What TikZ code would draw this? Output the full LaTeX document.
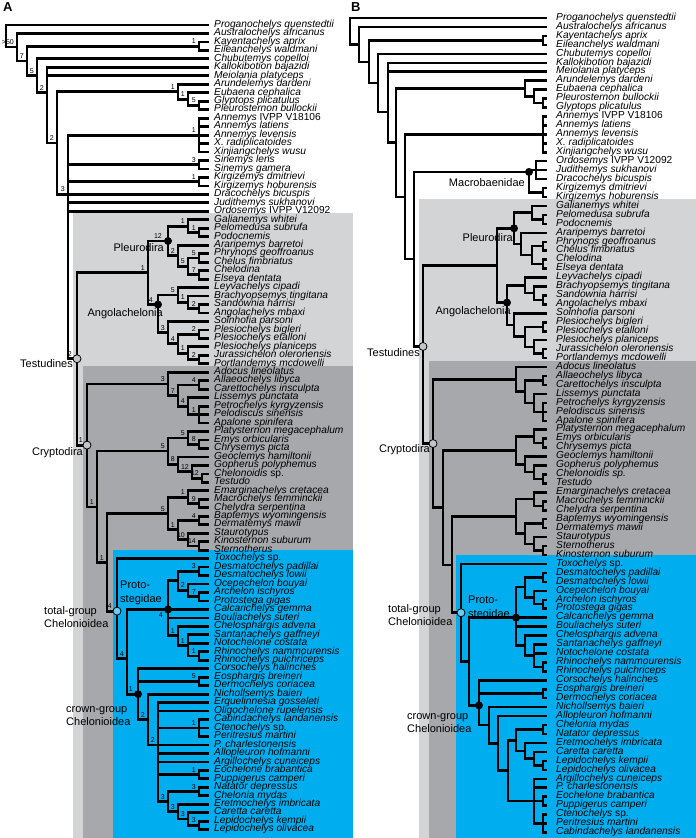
\documentclass[tikz,border=0pt]{standalone}
\usepackage{fontspec}
\setmainfont{Liberation Sans}
\usepackage{xcolor}
\definecolor{TestGray}{HTML}{D3D4D6}
\definecolor{CryptGray}{HTML}{A7A8AC}
\definecolor{ChelBlue}{HTML}{00AEEF}
\definecolor{DotGray}{HTML}{C4C5C8}

\tikzset{
  declare function={ya(\i)=25+(\i-1)*8.47; yb(\i)=18+(\i-1)*8.95;},
  brA/.style={draw, line width=2.8pt, line join=miter},
  brB/.style={draw, line width=2.5pt, line join=miter},
  taxon/.style={anchor=west, inner sep=0pt, text height=6pt, text depth=1.5pt,
    font=\fontsize{10.2}{11}\selectfont\itshape},
  supp/.style={anchor=south east, inner sep=0pt, xshift=-3pt, yshift=2.2pt,
    font=\fontsize{7}{7}\selectfont},
  cladelbl/.style={inner sep=0pt, font=\fontsize{11}{13.5}\selectfont},
  fdot/.style={circle, fill=black, minimum size=8pt, inner sep=0pt},
  odot/.style={circle, draw=black, line width=0.8pt, fill=#1, minimum size=8pt, inner sep=0pt},
  panel/.style={anchor=north west, inner sep=0pt, font=\bfseries\fontsize{13}{13}\selectfont}
}
% branches from a node to each of its children
\newcommand{\kids}[3][brA]{\foreach \kid in {#3}{\draw[#1] (#2) |- (\kid);}}
% support value left of a node
\newcommand{\bsv}[3][]{\node[supp,#1] (s#2) at (#2) {#3};}

\begin{document}
\begin{tikzpicture}[x=1pt,y=-1pt]
\path[use as bounding box] (0,0) rectangle (696,838);

% shaded clades
\fill[TestGray] (73,213) rectangle (353,838);
\fill[CryptGray] (83,366) rectangle (353,838);
\fill[ChelBlue] (113,550) rectangle (353,838);
\fill[TestGray] (419,199) rectangle (696,838);
\fill[CryptGray] (429,361) rectangle (696,838);
\fill[ChelBlue] (456,555) rectangle (696,838);

\node[panel] (pA) at (3,2) {A};
\node[panel] (pB) at (351,2) {B};

%%%%%%%%%%%%%%%% panel A: tips
\foreach \t [count=\i] in {
Proganochelys quenstedtii, Australochelys africanus, Kayentachelys aprix,
Eileanchelys waldmani, Chubutemys copelloi, Kallokibotion bajazidi,
Meiolania platyceps, Arundelemys dardeni, Eubaena cephalica,
Glyptops plicatulus, Pleurosternon bullockii, Annemys \textup{IVPP V18106},
Annemys latiens, Annemys levensis, X. radiplicatoides, Xinjiangchelys wusu,
Sinemys lens, Sinemys gamera, Kirgizemys dmitrievi, Kirgizemys hoburensis,
Dracochelys bicuspis, Judithemys sukhanovi, Ordosemys \textup{IVPP V12092},
Galianemys whitei, Pelomedusa subrufa, Podocnemis, Araripemys barretoi,
Phrynops geoffroanus, Chelus fimbriatus, Chelodina, Elseya dentata,
Leyvachelys cipadi, Brachyopsemys tingitana, Sandownia harrisi,
Angolachelys mbaxi, Solnhofia parsoni, Plesiochelys bigleri,
Plesiochelys etalloni, Plesiochelys planiceps, Jurassichelon oleronensis,
Portlandemys mcdowelli, Adocus lineolatus, Allaeochelys libyca,
Carettochelys insculpta, Lissemys punctata, Petrochelys kyrgyzensis,
Pelodiscus sinensis, Apalone spinifera, Platysternon megacephalum,
Emys orbicularis, Chrysemys picta, Geoclemys hamiltonii, Gopherus polyphemus,
Chelonoidis \textup{sp.}, Testudo, Emarginachelys cretacea,
Macrochelys temminckii, Chelydra serpentina, Baptemys wyomingensis,
Dermatemys mawii, Staurotypus, Kinosternon suburum, Sternotherus,
Toxochelys \textup{sp.}, Desmatochelys padillai, Desmatochelys lowii,
Ocepechelon bouyai, Archelon ischyros, Protostega gigas, Calcarichelys gemma,
Bouliachelys suteri, Chelosphargis advena, Santanachelys gaffneyi,
Notochelone costata, Rhinochelys nammourensis, Rhinochelys pulchriceps,
Corsochelys halinches, Eosphargis breineri, Dermochelys coriacea,
Nichollsemys baieri, Erquelinnesia gosseleti, Oligochelone rupelensis,
Cabindachelys landanensis, Ctenochelys \textup{sp.}, Peritresius martini,
P. charlestonensis, Allopleuron hofmanni, Argillochelys cuneiceps,
Eochelone brabantica, Puppigerus camperi, Natator depressus, Chelonia mydas,
Eretmochelys imbricata, Caretta caretta, Lepidochelys kempii,
Lepidochelys olivacea}{
  \coordinate (a\i) at (209,{ya(\i)});
  \node[taxon] (ta\i) at (214,{ya(\i)}) {\t};
}

% panel A: internal nodes
\coordinate (A-root) at (6,{ya(2.3)});
\coordinate (A-n2) at (17,{ya(3.6)});
\coordinate (A-n3) at (27,{ya(5.25)});
\coordinate (A-kay) at (199,{ya(3.5)});
\coordinate (A-n4) at (37,{ya(7)});
\coordinate (A-n5) at (47,{ya(9)});
\coordinate (A-n6) at (57,{ya(14.94)});
\coordinate (A-aru) at (178,{ya(8.875)});
\coordinate (A-eub) at (188,{ya(9.75)});
\coordinate (A-gly) at (199,{ya(10.5)});
\coordinate (A-n7) at (68,{ya(21)});
\coordinate (A-ann) at (199,{ya(14)});
\coordinate (A-sin) at (199,{ya(17.5)});
\coordinate (A-kir) at (199,{ya(19.5)});
\coordinate (A-tes) at (77,{ya(40.4)});
\coordinate (A-pa) at (148,{ya(30.25)});
\coordinate (A-pleu) at (168,{ya(26.5)});
\coordinate (A-pel) at (188,{ya(24.75)});
\coordinate (A-pod) at (199,{ya(25.5)});
\coordinate (A-chel) at (178,{ya(28.25)});
\coordinate (A-phr) at (188,{ya(29.5)});
\coordinate (A-chf) at (199,{ya(28.5)});
\coordinate (A-chd) at (199,{ya(30.5)});
\coordinate (A-ango) at (158,{ya(34)});
\coordinate (A-ley) at (178,{ya(32.875)});
\coordinate (A-bra) at (188,{ya(33.75)});
\coordinate (A-san) at (199,{ya(34.5)});
\coordinate (A-sol) at (168,{ya(37.31)});
\coordinate (A-ple) at (178,{ya(38.625)});
\coordinate (A-big) at (199,{ya(37.5)});
\coordinate (A-pla) at (188,{ya(39.75)});
\coordinate (A-jur) at (199,{ya(40.5)});
\coordinate (A-cry) at (87,{ya(50.6)});
\coordinate (A-tri) at (168,{ya(43.375)});
\coordinate (A-all) at (178,{ya(44.75)});
\coordinate (A-car) at (199,{ya(43.5)});
\coordinate (A-lis) at (188,{ya(46)});
\coordinate (A-tny) at (199,{ya(47)});
\coordinate (A-nd) at (97,{ya(57.9)});
\coordinate (A-tst) at (168,{ya(51.3)});
\coordinate (A-pty) at (188,{ya(49.75)});
\coordinate (A-emy) at (199,{ya(50.5)});
\coordinate (A-geo) at (178,{ya(52.875)});
\coordinate (A-gop) at (192,{ya(53.75)});
\coordinate (A-tdo) at (202,{ya(54.5)});
\coordinate (A-ne) at (107,{ya(64.45)});
\coordinate (A-chy) at (168,{ya(58.7)});
\coordinate (A-ema) at (188,{ya(56.75)});
\coordinate (A-mac) at (199,{ya(57.5)});
\coordinate (A-kin) at (178,{ya(60.6)});
\coordinate (A-bap) at (199,{ya(59.5)});
\coordinate (A-sta) at (188,{ya(61.75)});
\coordinate (A-ks) at (199,{ya(62.5)});
\coordinate (A-tg) at (117,{ya(70.2)});
\coordinate (A-nf) at (127,{ya(75.8)});
\coordinate (A-pro) at (168,{ya(70)});
\coordinate (A-des) at (178,{ya(66.6)});
\coordinate (A-dsm) at (199,{ya(65.5)});
\coordinate (A-arc) at (188,{ya(67.75)});
\coordinate (A-ap) at (199,{ya(68.5)});
\coordinate (A-chs) at (178,{ya(73.1)});
\coordinate (A-snt) at (188,{ya(74.25)});
\coordinate (A-rhi) at (199,{ya(75.5)});
\coordinate (A-crn) at (138,{ya(80)});
\coordinate (A-eos) at (199,{ya(78.5)});
\coordinate (A-ng) at (148,{ya(83)});
\coordinate (A-nh) at (158,{ya(86)});
\coordinate (A-cab) at (199,{ya(84)});
\coordinate (A-eoc) at (199,{ya(89.5)});
\coordinate (A-ni) at (168,{ya(92.7)});
\coordinate (A-nat) at (199,{ya(91.5)});
\coordinate (A-nj) at (178,{ya(93.9)});
\coordinate (A-nk) at (188,{ya(94.75)});
\coordinate (A-lep) at (199,{ya(95.5)});

% panel A: branches
\kids{A-root}{a1,A-n2}
\kids{A-n2}{a2,A-n3}
\kids{A-n3}{A-kay,A-n4}
\kids{A-kay}{a3,a4}
\kids{A-n4}{a5,A-n5}
\kids{A-n5}{a6,a7,A-n6}
\kids{A-n6}{A-aru,A-n7}
\kids{A-aru}{a8,A-eub}
\kids{A-eub}{a9,A-gly}
\kids{A-gly}{a10,a11}
\kids{A-n7}{A-ann,A-sin,A-kir,a21,a22,a23,A-tes}
\kids{A-ann}{a12,a13,a14,a15,a16}
\kids{A-sin}{a17,a18}
\kids{A-kir}{a19,a20}
\kids{A-tes}{A-pa,A-cry}
\kids{A-pa}{A-pleu,A-ango}
\kids{A-pleu}{A-pel,A-chel}
\kids{A-pel}{a24,A-pod}
\kids{A-pod}{a25,a26}
\kids{A-chel}{a27,A-phr}
\kids{A-phr}{A-chf,A-chd}
\kids{A-chf}{a28,a29}
\kids{A-chd}{a30,a31}
\kids{A-ango}{A-ley,A-sol}
\kids{A-ley}{a32,A-bra}
\kids{A-bra}{a33,A-san}
\kids{A-san}{a34,a35}
\kids{A-sol}{a36,A-ple}
\kids{A-ple}{A-big,A-pla}
\kids{A-big}{a37,a38}
\kids{A-pla}{a39,A-jur}
\kids{A-jur}{a40,a41}
\kids{A-cry}{A-tri,A-nd}
\kids{A-tri}{a42,A-all}
\kids{A-all}{A-car,A-lis}
\kids{A-car}{a43,a44}
\kids{A-lis}{a45,A-tny}
\kids{A-tny}{a46,a47,a48}
\kids{A-nd}{A-tst,A-ne}
\kids{A-tst}{A-pty,A-geo}
\kids{A-pty}{a49,A-emy}
\kids{A-emy}{a50,a51}
\kids{A-geo}{a52,A-gop}
\kids{A-gop}{a53,A-tdo}
\kids{A-tdo}{a54,a55}
\kids{A-ne}{A-chy,A-tg}
\kids{A-chy}{A-ema,A-kin}
\kids{A-ema}{a56,A-mac}
\kids{A-mac}{a57,a58}
\kids{A-kin}{A-bap,A-sta}
\kids{A-bap}{a59,a60}
\kids{A-sta}{a61,A-ks}
\kids{A-ks}{a62,a63}
\kids{A-tg}{a64,A-nf}
\kids{A-nf}{A-pro,A-crn}
\kids{A-pro}{A-des,a70,a71,A-chs}
\kids{A-des}{A-dsm,A-arc}
\kids{A-dsm}{a65,a66}
\kids{A-arc}{a67,A-ap}
\kids{A-ap}{a68,a69}
\kids{A-chs}{a72,A-snt}
\kids{A-snt}{a73,a74,A-rhi}
\kids{A-rhi}{a75,a76}
\kids{A-crn}{a77,A-eos,A-ng}
\kids{A-eos}{a78,a79}
\kids{A-ng}{a80,A-nh}
\kids{A-nh}{a81,a82,A-cab,a86,a87,a88,A-eoc,A-ni}
\kids{A-cab}{a83,a84,a85}
\kids{A-eoc}{a89,a90}
\kids{A-ni}{A-nat,A-nj}
\kids{A-nat}{a91,a92}
\kids{A-nj}{a93,A-nk}
\kids{A-nk}{a94,A-lep}
\kids{A-lep}{a95,a96}

% panel A: node markers
\node[odot=DotGray] (cA-tes) at (A-tes) {};
\node[odot=DotGray] (cA-cry) at (A-cry) {};
\node[odot=ChelBlue!60!white] (cA-tg) at (A-tg) {};
\node[fdot] (cA-pleu) at (A-pleu) {};
\node[fdot] (cA-ango) at (A-ango) {};
\node[fdot] (cA-pro) at (A-pro) {};
\node[fdot] (cA-crn) at (A-crn) {};

% panel A: support values
\bsv{A-n2}{>50} \bsv{A-n3}{7} \bsv{A-n4}{5} \bsv{A-n5}{2} \bsv{A-n6}{2}
\bsv{A-n7}{3} \bsv[xshift=-2pt]{A-tes}{2}
\bsv{A-kay}{1} \bsv{A-aru}{1} \bsv{A-eub}{1} \bsv{A-gly}{5}
\bsv{A-ann}{1} \bsv{A-sin}{3} \bsv{A-kir}{1}
\bsv{A-pa}{1} \bsv[xshift=-3pt]{A-pleu}{12} \bsv{A-pel}{1} \bsv{A-pod}{1}
\bsv{A-chel}{2} \bsv{A-phr}{5} \bsv{A-chf}{5} \bsv{A-chd}{7}
\bsv[xshift=-2pt]{A-ango}{4} \bsv{A-ley}{5} \bsv{A-bra}{1} \bsv{A-san}{2}
\bsv{A-sol}{3} \bsv{A-ple}{4} \bsv{A-big}{2} \bsv{A-pla}{1} \bsv{A-jur}{2}
\bsv[xshift=-1pt]{A-cry}{1} \bsv{A-tri}{3} \bsv{A-all}{7} \bsv{A-car}{4}
\bsv{A-lis}{4} \bsv{A-tny}{1}
\bsv{A-nd}{1} \bsv{A-tst}{5} \bsv{A-pty}{5} \bsv{A-emy}{8} \bsv{A-geo}{8}
\bsv{A-gop}{12} \bsv{A-tdo}{12}
\bsv{A-ne}{1} \bsv{A-chy}{5} \bsv{A-ema}{1} \bsv{A-mac}{9} \bsv{A-kin}{1}
\bsv{A-bap}{4} \bsv{A-sta}{10} \bsv{A-ks}{14}
\bsv[xshift=-2pt]{A-tg}{4} \bsv{A-nf}{4} \bsv{A-dsm}{3} \bsv{A-arc}{2} \bsv{A-ap}{7}
\bsv{A-chs}{1} \bsv{A-snt}{1} \bsv{A-rhi}{1}
\node[supp, anchor=north east, xshift=-2pt, yshift=-5.5pt] (sA-pro) at (A-pro) {4};
\bsv[xshift=-2pt]{A-crn}{1} \bsv{A-eos}{5} \bsv{A-ng}{2} \bsv{A-nh}{2}
\bsv{A-cab}{1} \bsv{A-eoc}{1} \bsv{A-ni}{3} \bsv{A-nat}{3} \bsv{A-nj}{3}
\bsv{A-nk}{3} \bsv{A-lep}{3}

% panel A: clade names
\node[cladelbl, anchor=east] (lA-pleu) at (164,248) {Pleurodira};
\node[cladelbl, anchor=east] (lA-ango) at (163,314) {Angolachelonia};
\node[cladelbl, anchor=east] (lA-tes) at (73,364) {Testudines};
\node[cladelbl, anchor=east] (lA-cry) at (83,453) {Cryptodira};
\node[cladelbl, anchor=west, align=left] (lA-tg) at (44,617) {total-group\\Chelonioidea};
\node[cladelbl, anchor=west, align=left] (lA-pro) at (120,593) {Proto-\\stegidae};
\node[cladelbl, anchor=west, align=left] (lA-crn) at (66,716) {crown-group\\Chelonioidea};

%%%%%%%%%%%%%%%% panel B: tips
\foreach \t [count=\i] in {
Proganochelys quenstedtii, Australochelys africanus, Kayentachelys aprix,
Eileanchelys waldmani, Chubutemys copelloi, Kallokibotion bajazidi,
Meiolania platyceps, Arundelemys dardeni, Eubaena cephalica,
Pleurosternon bullockii, Glyptops plicatulus, Annemys \textup{IVPP V18106},
Annemys latiens, Annemys levensis, X. radiplicatoides, Xinjiangchelys wusu,
Ordosemys \textup{IVPP V12092}, Judithemys sukhanovi, Dracochelys bicuspis,
Kirgizemys dmitrievi, Kirgizemys hoburensis, Galianemys whitei,
Pelomedusa subrufa, Podocnemis, Araripemys barretoi, Phrynops geoffroanus,
Chelus fimbriatus, Chelodina, Elseya dentata, Leyvachelys cipadi,
Brachyopsemys tingitana, Sandownia harrisi, Angolachelys mbaxi,
Solnhofia parsoni, Plesiochelys bigleri, Plesiochelys etalloni,
Plesiochelys planiceps, Jurassichelon oleronensis, Portlandemys mcdowelli,
Adocus lineolatus, Allaeochelys libyca, Carettochelys insculpta,
Lissemys punctata, Petrochelys kyrgyzensis, Pelodiscus sinensis,
Apalone spinifera, Platysternon megacephalum, Emys orbicularis,
Chrysemys picta, Geoclemys hamiltonii, Gopherus polyphemus,
Chelonoidis sp., Testudo, Emarginachelys cretacea, Macrochelys temminckii,
Chelydra serpentina, Baptemys wyomingensis, Dermatemys mawii, Staurotypus,
Sternotherus, Kinosternon suburum, Toxochelys \textup{sp.},
Desmatochelys padillai, Desmatochelys lowii, Ocepechelon bouyai,
Archelon ischyros, Protostega gigas, Calcarichelys gemma,
Bouliachelys suteri, Chelosphargis advena, Santanachelys gaffneyi,
Notochelone costata, Rhinochelys nammourensis, Rhinochelys pulchriceps,
Corsochelys halinches, Eosphargis breineri, Dermochelys coriacea,
Nichollsemys baieri, Allopleuron hofmanni, Chelonia mydas,
Natator depressus, Eretmochelys imbricata, Caretta caretta,
Lepidochelys kempii, Lepidochelys olivacea, Argillochelys cuneiceps,
P. charlestonensis, Eochelone brabantica, Puppigerus camperi,
Ctenochelys \textup{sp.}, Peritresius martini, Cabindachelys landanensis}{
  \coordinate (b\i) at (547,{yb(\i)});
  \node[taxon] (tb\i) at (556,{yb(\i)}) {\t};
}

% panel B: internal nodes
\coordinate (B-root) at (350,{yb(2.5)});
\coordinate (B-n2) at (359,{yb(3.95)});
\coordinate (B-n3) at (369,{yb(5.9)});
\coordinate (B-kay) at (543,{yb(3.5)});
\coordinate (B-n4) at (378,{yb(8.25)});
\coordinate (B-n5) at (388,{yb(11.5)});
\coordinate (B-n6) at (396,{yb(14.9)});
\coordinate (B-aru) at (525,{yb(8.875)});
\coordinate (B-eub) at (534,{yb(9.75)});
\coordinate (B-gly) at (543,{yb(10.5)});
\coordinate (B-n7) at (405,{yb(20.98)});
\coordinate (B-ann) at (543,{yb(14)});
\coordinate (B-n8) at (414,{yb(27.95)});
\coordinate (B-mcb) at (529,{yb(18.2)});
\coordinate (B-ord) at (536,{yb(18)});
\coordinate (B-kir) at (543,{yb(20.5)});
\coordinate (B-tes) at (423,{yb(37.7)});
\coordinate (B-pa) at (497,{yb(28.65)});
\coordinate (B-pleu) at (514,{yb(24.5)});
\coordinate (B-pel) at (532,{yb(22.75)});
\coordinate (B-pod) at (543,{yb(23.5)});
\coordinate (B-chel) at (521,{yb(26.25)});
\coordinate (B-phr) at (532,{yb(27.5)});
\coordinate (B-chf) at (543,{yb(26.5)});
\coordinate (B-chd) at (543,{yb(28.5)});
\coordinate (B-ango) at (507,{yb(32.8)});
\coordinate (B-ley) at (525,{yb(30.875)});
\coordinate (B-bra) at (534,{yb(31.75)});
\coordinate (B-san) at (543,{yb(32.5)});
\coordinate (B-sol) at (514,{yb(35.3)});
\coordinate (B-ple) at (525,{yb(36.6)});
\coordinate (B-big) at (543,{yb(35.5)});
\coordinate (B-pla) at (534,{yb(37.75)});
\coordinate (B-jur) at (543,{yb(38.5)});
\coordinate (B-cry) at (433,{yb(48.55)});
\coordinate (B-tri) at (516,{yb(41.4)});
\coordinate (B-all) at (525,{yb(42.75)});
\coordinate (B-car) at (543,{yb(41.5)});
\coordinate (B-lis) at (534,{yb(44)});
\coordinate (B-tny) at (543,{yb(45)});
\coordinate (B-nd) at (443,{yb(55.7)});
\coordinate (B-tst) at (516,{yb(49.3)});
\coordinate (B-pty) at (534,{yb(47.75)});
\coordinate (B-emy) at (543,{yb(48.5)});
\coordinate (B-geo) at (525,{yb(50.875)});
\coordinate (B-gop) at (534,{yb(51.75)});
\coordinate (B-tdo) at (543,{yb(52.5)});
\coordinate (B-ne) at (452,{yb(62.1)});
\coordinate (B-chy) at (516,{yb(56.7)});
\coordinate (B-ema) at (534,{yb(54.75)});
\coordinate (B-mac) at (543,{yb(55.5)});
\coordinate (B-kin) at (525,{yb(58.6)});
\coordinate (B-bap) at (543,{yb(57.5)});
\coordinate (B-sta) at (534,{yb(59.75)});
\coordinate (B-ks) at (543,{yb(60.5)});
\coordinate (B-tg) at (461,{yb(67.45)});
\coordinate (B-nf) at (469,{yb(72.9)});
\coordinate (B-pro) at (516,{yb(68)});
\coordinate (B-des) at (525,{yb(64.6)});
\coordinate (B-dsm) at (543,{yb(63.5)});
\coordinate (B-arc) at (534,{yb(65.75)});
\coordinate (B-ap) at (543,{yb(66.5)});
\coordinate (B-chs) at (525,{yb(71.1)});
\coordinate (B-snt) at (534,{yb(72.25)});
\coordinate (B-rhi) at (543,{yb(73.5)});
\coordinate (B-crn) at (479,{yb(77.8)});
\coordinate (B-eos) at (543,{yb(76.5)});
\coordinate (B-ng) at (489,{yb(80)});
\coordinate (B-nh) at (498,{yb(82.05)});
\coordinate (B-ni) at (508,{yb(85.1)});
\coordinate (B-chl) at (516,{yb(81.7)});
\coordinate (B-nat) at (543,{yb(80.5)});
\coordinate (B-ere) at (525,{yb(82.875)});
\coordinate (B-crt) at (534,{yb(83.75)});
\coordinate (B-lep) at (543,{yb(84.5)});
\coordinate (B-arg) at (534,{yb(88.5)});
\coordinate (B-eoc) at (543,{yb(88.5)});
\coordinate (B-cte) at (543,{yb(91)});

% panel B: branches
\kids[brB]{B-root}{b1,B-n2}
\kids[brB]{B-n2}{b2,B-n3}
\kids[brB]{B-n3}{B-kay,B-n4}
\kids[brB]{B-kay}{b3,b4}
\kids[brB]{B-n4}{b5,B-n5}
\kids[brB]{B-n5}{b6,b7,B-n6}
\kids[brB]{B-n6}{B-aru,B-n7}
\kids[brB]{B-aru}{b8,B-eub}
\kids[brB]{B-eub}{b9,B-gly}
\kids[brB]{B-gly}{b10,b11}
\kids[brB]{B-n7}{B-ann,B-n8}
\kids[brB]{B-ann}{b12,b13,b14,b15,b16}
\kids[brB]{B-n8}{B-mcb,B-tes}
\kids[brB]{B-mcb}{B-ord,B-kir}
\kids[brB]{B-ord}{b17,b18,b19}
\kids[brB]{B-kir}{b20,b21}
\kids[brB]{B-tes}{B-pa,B-cry}
\kids[brB]{B-pa}{B-pleu,B-ango}
\kids[brB]{B-pleu}{B-pel,B-chel}
\kids[brB]{B-pel}{b22,B-pod}
\kids[brB]{B-pod}{b23,b24}
\kids[brB]{B-chel}{b25,B-phr}
\kids[brB]{B-phr}{B-chf,B-chd}
\kids[brB]{B-chf}{b26,b27}
\kids[brB]{B-chd}{b28,b29}
\kids[brB]{B-ango}{B-ley,B-sol}
\kids[brB]{B-ley}{b30,B-bra}
\kids[brB]{B-bra}{b31,B-san}
\kids[brB]{B-san}{b32,b33}
\kids[brB]{B-sol}{b34,B-ple}
\kids[brB]{B-ple}{B-big,B-pla}
\kids[brB]{B-big}{b35,b36}
\kids[brB]{B-pla}{b37,B-jur}
\kids[brB]{B-jur}{b38,b39}
\kids[brB]{B-cry}{B-tri,B-nd}
\kids[brB]{B-tri}{b40,B-all}
\kids[brB]{B-all}{B-car,B-lis}
\kids[brB]{B-car}{b41,b42}
\kids[brB]{B-lis}{b43,B-tny}
\kids[brB]{B-tny}{b44,b45,b46}
\kids[brB]{B-nd}{B-tst,B-ne}
\kids[brB]{B-tst}{B-pty,B-geo}
\kids[brB]{B-pty}{b47,B-emy}
\kids[brB]{B-emy}{b48,b49}
\kids[brB]{B-geo}{b50,B-gop}
\kids[brB]{B-gop}{b51,B-tdo}
\kids[brB]{B-tdo}{b52,b53}
\kids[brB]{B-ne}{B-chy,B-tg}
\kids[brB]{B-chy}{B-ema,B-kin}
\kids[brB]{B-ema}{b54,B-mac}
\kids[brB]{B-mac}{b55,b56}
\kids[brB]{B-kin}{B-bap,B-sta}
\kids[brB]{B-bap}{b57,b58}
\kids[brB]{B-sta}{b59,B-ks}
\kids[brB]{B-ks}{b60,b61}
\kids[brB]{B-tg}{b62,B-nf}
\kids[brB]{B-nf}{B-pro,B-crn}
\kids[brB]{B-pro}{B-des,b68,b69,B-chs}
\kids[brB]{B-des}{B-dsm,B-arc}
\kids[brB]{B-dsm}{b63,b64}
\kids[brB]{B-arc}{b65,B-ap}
\kids[brB]{B-ap}{b66,b67}
\kids[brB]{B-chs}{b70,B-snt}
\kids[brB]{B-snt}{b71,b72,B-rhi}
\kids[brB]{B-rhi}{b73,b74}
\kids[brB]{B-crn}{b75,B-eos,B-ng}
\kids[brB]{B-eos}{b76,b77}
\kids[brB]{B-ng}{b78,B-nh}
\kids[brB]{B-nh}{b79,B-ni}
\kids[brB]{B-ni}{B-chl,B-arg}
\kids[brB]{B-chl}{B-nat,B-ere}
\kids[brB]{B-nat}{b80,b81}
\kids[brB]{B-ere}{b82,B-crt}
\kids[brB]{B-crt}{b83,B-lep}
\kids[brB]{B-lep}{b84,b85}
\kids[brB]{B-arg}{b86,b87,B-eoc,B-cte}
\kids[brB]{B-eoc}{b88,b89}
\kids[brB]{B-cte}{b90,b91,b92}

% panel B: node markers
\node[odot=DotGray] (cB-tes) at (B-tes) {};
\node[odot=DotGray] (cB-cry) at (B-cry) {};
\node[odot=ChelBlue!60!white] (cB-tg) at (B-tg) {};
\node[fdot] (cB-mcb) at (B-mcb) {};
\node[fdot] (cB-pleu) at (B-pleu) {};
\node[fdot] (cB-ango) at (B-ango) {};
\node[fdot] (cB-pro) at (B-pro) {};
\node[fdot] (cB-crn) at (B-crn) {};

% panel B: clade names
\node[cladelbl, anchor=east] (lB-mcb) at (525,183) {Macrobaenidae};
\node[cladelbl, anchor=east] (lB-pleu) at (513,238) {Pleurodira};
\node[cladelbl, anchor=east] (lB-ango) at (511,312) {Angolachelonia};
\node[cladelbl, anchor=east] (lB-tes) at (420,353) {Testudines};
\node[cladelbl, anchor=east] (lB-cry) at (430,450) {Cryptodira};
\node[cladelbl, anchor=west, align=left] (lB-tg) at (388,615) {total-group\\Chelonioidea};
\node[cladelbl, anchor=west, align=left] (lB-pro) at (468,608) {Proto-\\stegidae};
\node[cladelbl, anchor=west, align=left] (lB-crn) at (407,723) {crown-group\\Chelonioidea};
\end{tikzpicture}
\end{document}
